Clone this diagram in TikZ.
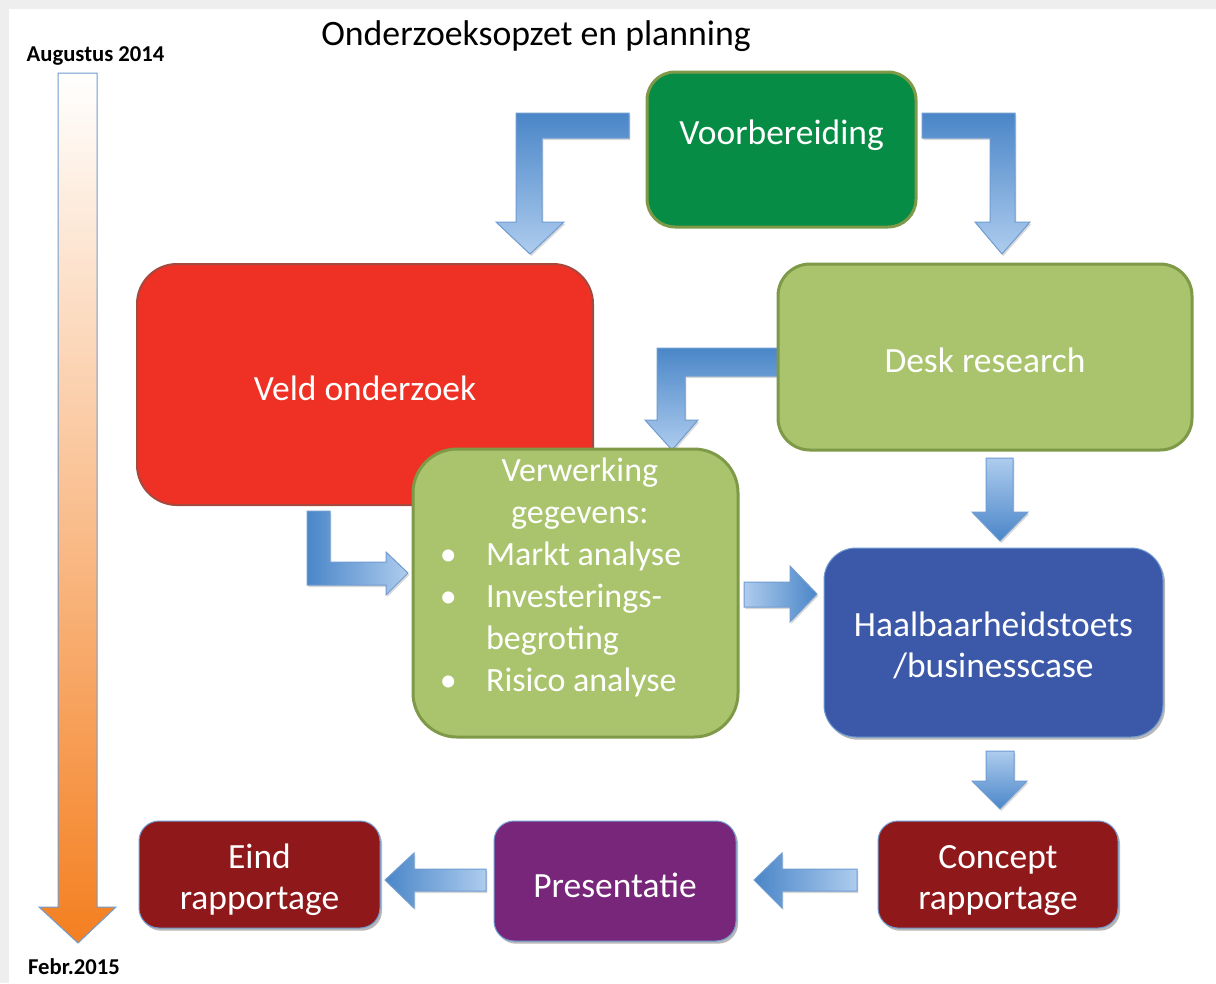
\documentclass[tikz,border=0pt]{standalone}
\usepackage{fontspec}
\setmainfont{Carlito}
\usetikzlibrary{shadows,calc}

\definecolor{pagegray}{RGB}{238,238,238}
\definecolor{voorbgreen}{RGB}{7,140,69}
\definecolor{olivedge}{RGB}{126,154,72}
\definecolor{veldred}{RGB}{238,49,36}
\definecolor{veldedge}{RGB}{165,72,62}
\definecolor{deskgreen}{RGB}{169,196,108}
\definecolor{haalblue}{RGB}{60,88,168}
\definecolor{rapred}{RGB}{143,24,27}
\definecolor{prespurple}{RGB}{119,38,122}
\definecolor{edgeblue}{RGB}{112,156,210}
\definecolor{arrdark}{RGB}{74,134,200}
\definecolor{arrlight}{RGB}{174,204,238}
\definecolor{timeorange}{RGB}{244,127,32}

\tikzset{every picture/.style={line width=0.75pt}}
\tikzset{
  stepbox/.style={inner sep=0pt},
  steplabel/.style={text=white, align=center, inner sep=0pt, font=\fontsize{26.6}{31}\selectfont},
  boxshadow/.style={drop shadow={shadow xshift=1.5pt, shadow yshift=-2pt, opacity=0.4, fill=black!70}},
  blockarrow/.style={draw=edgeblue, line width=0.75pt, line join=miter},
  arrowshadow/.style={drop shadow={shadow xshift=1pt, shadow yshift=-1.5pt, opacity=0.25, fill=black!60}},
}

\begin{document}
\begin{tikzpicture}[x=0.75pt,y=0.75pt,yscale=-1,xscale=1]
%page
\useasboundingbox (0,0) rectangle (1216,983);
\fill [pagegray] (0,0) rectangle (1216,983);
\fill [white] (9,9) rectangle (1216,983);

%Shape: time line arrow
\draw [blockarrow, top color=white, bottom color=timeorange] (58,73) -- (97,73) -- (97,907) -- (116,907) -- (78,943) -- (39,907) -- (58,907) -- cycle ;

%Shape: Voorbereiding -> Veld onderzoek
\draw [blockarrow, arrowshadow, top color=arrdark, bottom color=arrlight] (629,113) -- (629,138) -- (542,138) -- (542,222) -- (564,222) -- (530,254) -- (496,222) -- (516,222) -- (516,113) -- cycle ;
%Shape: Voorbereiding -> Desk research
\draw [blockarrow, arrowshadow, top color=arrdark, bottom color=arrlight] (922,113) -- (1015,113) -- (1015,222) -- (1030,222) -- (1002,254) -- (975,222) -- (990,222) -- (990,138) -- (922,138) -- cycle ;
%Shape: Desk research -> Verwerking
\draw [blockarrow, arrowshadow, top color=arrdark, bottom color=arrlight] (779,348) -- (779,376) -- (685,376) -- (685,420) -- (698,420) -- (672,450) -- (645,420) -- (657,420) -- (657,348) -- cycle ;
%Shape: Veld onderzoek -> Verwerking
\draw [blockarrow, arrowshadow, left color=arrdark, right color=arrlight] (307,511) -- (330,511) -- (330,562) -- (386,562) -- (386,552) -- (408,573) -- (386,595) -- (386,585) -- (307,585) -- cycle ;
%Shape: Verwerking -> Haalbaarheid
\draw [blockarrow, arrowshadow, left color=arrlight, right color=arrdark] (744,582) -- (790,582) -- (790,566) -- (817,594) -- (790,622) -- (790,607) -- (744,607) -- cycle ;
%Shape: Desk research -> Haalbaarheid
\draw [blockarrow, arrowshadow, top color=arrlight, bottom color=arrdark] (986,458) -- (1013,458) -- (1013,512) -- (1028,512) -- (1000,541) -- (972,512) -- (986,512) -- cycle ;
%Shape: Haalbaarheid -> Concept
\draw [blockarrow, arrowshadow, top color=arrlight, bottom color=arrdark] (986,751) -- (1014,751) -- (1014,781) -- (1027,781) -- (1000,809) -- (972,781) -- (986,781) -- cycle ;
%Shape: Concept -> Presentatie
\draw [blockarrow, arrowshadow, left color=arrdark, right color=arrlight] (857,869) -- (857,891) -- (782,891) -- (782,908) -- (754,880) -- (782,853) -- (782,869) -- cycle ;
%Shape: Presentatie -> Eind
\draw [blockarrow, arrowshadow, left color=arrdark, right color=arrlight] (486,869) -- (486,891) -- (414,891) -- (414,908) -- (385,880) -- (414,853) -- (414,869) -- cycle ;

%Rounded Rect: Veld onderzoek
\node [stepbox, fill=veldred, draw=veldedge, line width=1.5pt, rounded corners=30pt, minimum width=342pt, minimum height=180.75pt] (veld) at (365,384.5) {};
%Rounded Rect: Desk research
\node [stepbox, fill=deskgreen, draw=olivedge, line width=2.25pt, rounded corners=24pt, minimum width=310.5pt, minimum height=139.5pt] (desk) at (985,357) {};
%Rounded Rect: Voorbereiding
\node [stepbox, fill=voorbgreen, draw=olivedge, line width=2.25pt, rounded corners=21pt, minimum width=201.75pt, minimum height=116.25pt] (voorb) at (781.5,149.5) {};
%Rounded Rect: Verwerking
\node [stepbox, fill=deskgreen, draw=olivedge, line width=2.25pt, rounded corners=33pt, minimum width=243.75pt, minimum height=216pt] (verw) at (575.5,593) {};
%Rounded Rect: Haalbaarheid
\node [stepbox, boxshadow, fill=haalblue, draw=edgeblue, rounded corners=24pt, minimum width=254.25pt, minimum height=141.75pt] (haal) at (993.5,642.5) {};
%Rounded Rect: Concept
\node [stepbox, boxshadow, fill=rapred, draw=edgeblue, rounded corners=15pt, minimum width=180pt, minimum height=80.25pt] (concept) at (998,874.5) {};
%Rounded Rect: Presentatie
\node [stepbox, boxshadow, fill=prespurple, draw=edgeblue, rounded corners=15pt, minimum width=181.5pt, minimum height=90pt] (pres) at (615,881) {};
%Rounded Rect: Eind
\node [stepbox, boxshadow, fill=rapred, draw=edgeblue, rounded corners=15pt, minimum width=180.75pt, minimum height=80.25pt] (eind) at (259.5,874.5) {};

% Text Node
\node [steplabel] (voorblabel) at ($(voorb)+(0,-14)$) {Voorbereiding};
% Text Node
\node [steplabel] (veldlabel) at ($(veld)+(0,3.5)$) {Veld onderzoek};
% Text Node
\node [steplabel] (desklabel) at ($(desk)+(0,3)$) {Desk research};
% Text Node
\node [steplabel] (haallabel) at ($(haal)+(0,3)$) {Haalbaarheidstoets\\/businesscase};
% Text Node
\node [steplabel] (conceptlabel) at ($(concept)+(0,6)$) {Concept\\rapportage};
% Text Node
\node [steplabel] (preslabel) at ($(pres)+(0,4)$) {Presentatie};
% Text Node
\node [steplabel] (eindlabel) at ($(eind)+(0,5)$) {Eind\\rapportage};
% Text Node
\node [steplabel, font=\fontsize{25.5}{31.5}\selectfont] (verwlabel) at ($(verw)+(-15,-15)$) {\begin{tabular}{@{}l@{\hspace{22pt}}l@{}}
\multicolumn{2}{c}{\hspace{29pt}Verwerking}\\
\multicolumn{2}{c}{\hspace{29pt}gegevens:}\\
\textbullet & Markt analyse\\
\textbullet & Investerings-\\
 & begroting\\
\textbullet & Risico analyse
\end{tabular}};
% Text Node
\node [font=\fontsize{26.8}{31}\selectfont] (title) at (536,36) {Onderzoeksopzet en planning};
% Text Node
\node [font=\bfseries\fontsize{17}{20}\selectfont] (startdate) at (95.5,56) {Augustus 2014};
% Text Node
\node [font=\bfseries\fontsize{17}{20}\selectfont] (enddate) at (74,967) {Febr.2015};

\end{tikzpicture}
\end{document}
